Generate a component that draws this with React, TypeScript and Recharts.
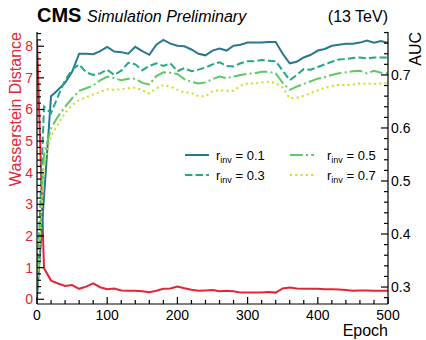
import { LineChart, Line, XAxis, YAxis, Legend } from 'recharts';

const FONT = '"Liberation Sans", Arial, Helvetica, sans-serif';
const RED = '#e42536';

const epochs = [
  0, 10, 20, 30, 40, 50, 60, 70, 80, 90,
  100, 110, 120, 130, 140, 150, 160, 170, 180, 190,
  200, 210, 220, 230, 240, 250, 260, 270, 280, 290,
  300, 310, 320, 330, 340, 350, 360, 370, 380, 390,
  400, 410, 420, 430, 440, 450, 460, 470, 480, 490, 500,
];

// Wasserstein distance (left axis)
const wasserstein = [
  8.2, 0.98, 0.59, 0.5, 0.42, 0.45, 0.33, 0.4, 0.5, 0.38,
  0.32, 0.34, 0.28, 0.27, 0.27, 0.25, 0.22, 0.27, 0.33, 0.34,
  0.4, 0.35, 0.3, 0.27, 0.28, 0.29, 0.25, 0.27, 0.25, 0.21,
  0.21, 0.21, 0.21, 0.23, 0.21, 0.34, 0.37, 0.34, 0.33, 0.33,
  0.33, 0.32, 0.32, 0.31, 0.29, 0.27, 0.28, 0.28, 0.27, 0.27, 0.27,
];

// AUC per r_inv (right axis)
const auc01 = [
  0.28, 0.47, 0.66, 0.672, 0.685, 0.706, 0.74, 0.74, 0.739, 0.745,
  0.753, 0.744, 0.743, 0.74, 0.753, 0.745, 0.738, 0.757, 0.766, 0.759,
  0.755, 0.754, 0.748, 0.74, 0.737, 0.746, 0.75, 0.746, 0.755, 0.757,
  0.761, 0.761, 0.761, 0.762, 0.762, 0.74, 0.722, 0.725, 0.733, 0.738,
  0.746, 0.749, 0.755, 0.757, 0.759, 0.759, 0.761, 0.765, 0.761, 0.764, 0.76,
];
const auc03 = [
  0.29, 0.64, 0.628, 0.66, 0.69, 0.71, 0.72, 0.705, 0.7, 0.703,
  0.71, 0.7, 0.708, 0.723, 0.72, 0.709, 0.717, 0.722, 0.717, 0.722,
  0.707, 0.713, 0.707, 0.71, 0.714, 0.72, 0.724, 0.717, 0.716, 0.722,
  0.726, 0.726, 0.728, 0.727, 0.726, 0.708, 0.69, 0.7, 0.711, 0.71,
  0.715, 0.72, 0.725, 0.729, 0.73, 0.732, 0.733, 0.731, 0.733, 0.733, 0.733,
];
const auc05 = [
  0.29, 0.55, 0.6, 0.622, 0.64, 0.656, 0.67, 0.675, 0.68, 0.69,
  0.697, 0.694, 0.69, 0.693, 0.693, 0.685, 0.682, 0.698, 0.705, 0.704,
  0.702, 0.692, 0.687, 0.684, 0.686, 0.692, 0.697, 0.694, 0.697, 0.7,
  0.702, 0.703, 0.706, 0.706, 0.703, 0.685, 0.672, 0.678, 0.683, 0.688,
  0.693, 0.696, 0.7, 0.703, 0.705, 0.707, 0.708, 0.703, 0.708, 0.704, 0.703,
];
const auc07 = [
  0.29, 0.53, 0.585, 0.607, 0.628, 0.643, 0.653, 0.658, 0.663, 0.668,
  0.673, 0.672, 0.673, 0.675, 0.676, 0.671, 0.665, 0.675, 0.681, 0.678,
  0.672, 0.667, 0.666, 0.66, 0.66, 0.669, 0.671, 0.67, 0.67, 0.68,
  0.684, 0.684, 0.686, 0.687, 0.685, 0.676, 0.656, 0.657, 0.661, 0.666,
  0.671, 0.676, 0.679, 0.681, 0.681, 0.682, 0.684, 0.684, 0.683, 0.684, 0.685,
];

const rinvLabels = ['0.1', '0.3', '0.5', '0.7'];

const xMajor = [0, 100, 200, 300, 400, 500];
const wMajor = [0, 1, 2, 3, 4, 5, 6, 7, 8];
const aucMajor = [0.3, 0.4, 0.5, 0.6, 0.7];

// minor ticks: 5 subdivisions like matplotlib's AutoMinorLocator
const withMinor = (major: number[], lo: number, hi: number) => {
  const step = (major[1] - major[0]) / 5;
  const out: number[] = [];
  const start = Math.ceil((lo - major[0]) / step - 1e-9);
  for (let k = start; major[0] + k * step <= hi + 1e-9; k++) {
    out.push(Math.round((major[0] + k * step) * 1e6) / 1e6);
  }
  return out;
};
const isMajor = (v: number, major: number[]) => major.some(m => Math.abs(m - v) < 1e-6);

const X_DOMAIN: [number, number] = [0, 500];
const W_DOMAIN: [number, number] = [-0.15, 8.45];
const AUC_DOMAIN: [number, number] = [0.268, 0.781];

const series = [
  { key: 'r01', values: auc01, color: '#2a788e', dash: undefined as string | undefined },
  { key: 'r03', values: auc03, color: '#22a884', dash: '7.4 3.2' },
  { key: 'r05', values: auc05, color: '#5ec962', dash: '12.8 3.2 2 3.2' },
  { key: 'r07', values: auc07, color: '#c8e020', dash: '2 3.3' },
];

const data = epochs.map((e, i) => {
  const row: any = { epoch: e, wd: wasserstein[i] };
  series.forEach(s => { row[s.key] = s.values[i]; });
  return row;
});

const TICK_W = 1.2;

const BottomTick = (props: any) => {
  const { x, y, payload } = props;
  const major = isMajor(payload.value, xMajor);
  return (
    <g>
      <line x1={x} x2={x} y1={y} y2={y - (major ? 7 : 4)} stroke="#000" strokeWidth={TICK_W} />
      {major && (
        <text x={x} y={y + 16} textAnchor="middle" fontSize={14} fontFamily={FONT} fill="#000">
          {payload.value}
        </text>
      )}
    </g>
  );
};

const TopTick = (props: any) => {
  const { x, y, payload } = props;
  const major = isMajor(payload.value, xMajor);
  return <line x1={x} x2={x} y1={y} y2={y + (major ? 7 : 4)} stroke="#000" strokeWidth={TICK_W} />;
};

const LeftTick = (props: any) => {
  const { x, y, payload } = props;
  const major = isMajor(payload.value, wMajor);
  return (
    <g>
      <line x1={x} x2={x + (major ? 7 : 4)} y1={y} y2={y} stroke="#000" strokeWidth={TICK_W} />
      {major && (
        <text x={x - 4} y={y + 5} textAnchor="end" fontSize={14} fontFamily={FONT} fill={RED}>
          {payload.value}
        </text>
      )}
    </g>
  );
};

const RightTick = (props: any) => {
  const { x, y, payload } = props;
  const major = isMajor(payload.value, aucMajor);
  return (
    <g>
      <line x1={x} x2={x - (major ? 7 : 4)} y1={y} y2={y} stroke="#000" strokeWidth={TICK_W} />
      {major && (
        <text x={x + 3} y={y + 5} textAnchor="start" fontSize={14} fontFamily={FONT} fill="#000">
          {payload.value.toFixed(1)}
        </text>
      )}
    </g>
  );
};

const LegendBox = () => {
  const cols = [
    { sx: 5, tx: 36 },
    { sx: 110, tx: 147 },
  ];
  return (
    <svg width={200} height={45} style={{ display: 'block' }}>
      {series.map((s, i) => {
        const c = cols[Math.floor(i / 2)];
        const y = 15 + (i % 2) * 20;
        return (
          <g key={s.key}>
            <line x1={c.sx} x2={c.sx + 24} y1={y} y2={y} stroke={s.color} strokeWidth={2} strokeDasharray={s.dash} />
            <text x={c.tx} y={y + 5} fontSize={13} fontFamily={FONT} fill="#000">
              r<tspan fontSize={9} dy={3}>inv</tspan>
              <tspan dy={-3}>{` = ${rinvLabels[i]}`}</tspan>
            </text>
          </g>
        );
      })}
    </svg>
  );
};

export default function App() {
  const frame = { stroke: '#000', strokeWidth: 1.2 };
  return (
    <div style={{ position: 'absolute', left: 0, top: 0, width: 426, height: 340, background: '#fff', fontFamily: FONT }}>
      <LineChart width={426} height={340} data={data} margin={{ top: 32, right: 0, bottom: 0, left: 0 }}>
        <XAxis xAxisId="b" dataKey="epoch" type="number" domain={X_DOMAIN} allowDataOverflow
          ticks={withMinor(xMajor, 0, 500)} interval={0} height={36} tickSize={0} tickMargin={0}
          tickLine={false} axisLine={frame} tick={<BottomTick />} />
        <XAxis xAxisId="t" orientation="top" dataKey="epoch" type="number" domain={X_DOMAIN} allowDataOverflow
          ticks={withMinor(xMajor, 0, 500)} interval={0} height={0} tickSize={0} tickMargin={0}
          tickLine={false} axisLine={frame} tick={<TopTick />} />
        <YAxis yAxisId="w" orientation="left" type="number" domain={W_DOMAIN} allowDataOverflow
          ticks={withMinor(wMajor, W_DOMAIN[0], W_DOMAIN[1])} interval={0} width={37} tickSize={0} tickMargin={0}
          tickLine={false} axisLine={frame} tick={<LeftTick />} />
        <YAxis yAxisId="auc" orientation="right" type="number" domain={AUC_DOMAIN} allowDataOverflow
          ticks={withMinor(aucMajor, AUC_DOMAIN[0], AUC_DOMAIN[1])} interval={0} width={38} tickSize={0} tickMargin={0}
          tickLine={false} axisLine={frame} tick={<RightTick />} />

        <Legend layout="vertical" align="center" verticalAlign="middle"
          wrapperStyle={{ position: 'absolute', left: 180, top: 140, width: 200, height: 45 }}
          content={() => <LegendBox />} />

        <Line xAxisId="t" yAxisId="w" type="linear" dataKey="wd" stroke={RED} strokeWidth={2}
          dot={false} isAnimationActive={false} legendType="none" />
        {series.map(s => (
          <Line key={s.key} xAxisId="b" yAxisId="auc" type="linear" dataKey={s.key} stroke={s.color}
            strokeWidth={2} strokeDasharray={s.dash} dot={false} isAnimationActive={false} />
        ))}
      </LineChart>

      <svg width={426} height={340} style={{ position: 'absolute', left: 0, top: 0, pointerEvents: 'none' }}>
        <text x={37} y={22} fontSize={20} fontWeight="bold" fontFamily={FONT} fill="#000">CMS</text>
        <text x={87} y={22} fontSize={16} fontStyle="italic" fontFamily={FONT} fill="#000">Simulation Preliminary</text>
        <text x={388} y={22} fontSize={16} textAnchor="end" fontFamily={FONT} fill="#000">(13 TeV)</text>
        <text transform="translate(21,32) rotate(-90)" textAnchor="end" fontSize={16} fontFamily={FONT} fill={RED}>
          Wasserstein Distance
        </text>
        <text transform="translate(421,32) rotate(-90)" textAnchor="end" fontSize={16} fontFamily={FONT} fill="#000">
          AUC
        </text>
        <text x={388} y={336} textAnchor="end" fontSize={16} fontFamily={FONT} fill="#000">Epoch</text>
      </svg>
    </div>
  );
}
